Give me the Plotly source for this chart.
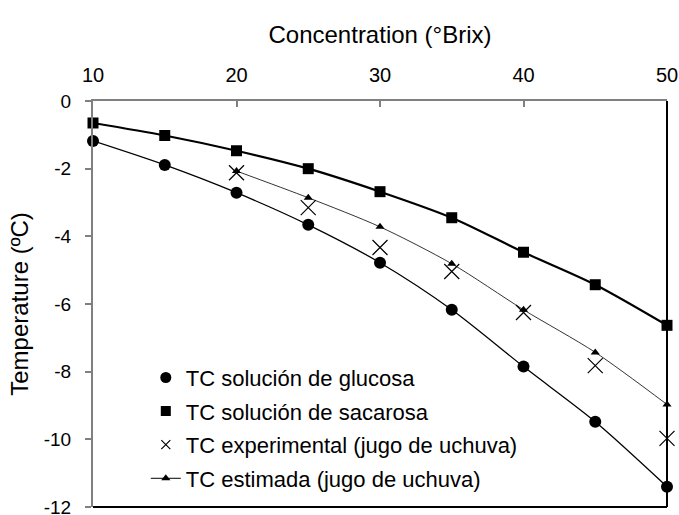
import plotly.graph_objects as go

conc = [10, 15, 20, 25, 30, 35, 40, 45, 50]
tc_glucosa = [-1.18, -1.89, -2.71, -3.66, -4.78, -6.17, -7.85, -9.48, -11.4]
tc_sacarosa = [-0.65, -1.02, -1.47, -2.0, -2.68, -3.45, -4.47, -5.43, -6.63]
conc_jugo = [20, 25, 30, 35, 40, 45, 50]
tc_experimental = [-2.12, -3.15, -4.33, -5.04, -6.25, -7.82, -9.97]
tc_estimada = [-2.07, -2.86, -3.72, -4.81, -6.17, -7.43, -8.97]

x_ticks = [10, 20, 30, 40, 50]
y_ticks = [0, -2, -4, -6, -8, -10, -12]
y_ticklabels = ["0", "-2", "-4", "-6", "-8", "-10", "-12"]

FONT = "Liberation Sans, Arial, sans-serif"

fig = go.Figure()
fig.add_trace(go.Scatter(
    x=conc, y=tc_glucosa, name="TC solución de glucosa", showlegend=False,
    mode="lines+markers", line=dict(color="black", width=1.3, shape="spline", smoothing=0.8),
    marker=dict(symbol="circle", size=12, color="black"), cliponaxis=False))
fig.add_trace(go.Scatter(
    x=conc, y=tc_sacarosa, name="TC solución de sacarosa", showlegend=False,
    mode="lines+markers", line=dict(color="black", width=2.2, shape="spline", smoothing=0.8),
    marker=dict(symbol="square", size=11, color="black"), cliponaxis=False))
fig.add_trace(go.Scatter(
    x=conc_jugo, y=tc_experimental, name="TC experimental (jugo de uchuva)", showlegend=False,
    mode="markers",
    marker=dict(symbol="x-thin-open", size=15, color="black", line=dict(width=1.2, color="black")),
    cliponaxis=False))
fig.add_trace(go.Scatter(
    x=conc_jugo, y=tc_estimada, name="TC estimada (jugo de uchuva)", showlegend=False,
    mode="lines+markers", line=dict(color="black", width=0.8, shape="spline", smoothing=0.8),
    marker=dict(symbol="triangle-up", size=8, color="black"), cliponaxis=False))

# legend entries (as in the original legend: markers only except the estimated curve)
fig.add_trace(go.Scatter(x=[None], y=[None], name="TC solución de glucosa", legendgroup="g1",
                         mode="markers", marker=dict(symbol="circle", size=11, color="black")))
fig.add_trace(go.Scatter(x=[None], y=[None], name="TC solución de sacarosa", legendgroup="g2",
                         mode="markers", marker=dict(symbol="square", size=10, color="black")))
fig.add_trace(go.Scatter(x=[None], y=[None], name="TC experimental (jugo de uchuva)", legendgroup="g3",
                         mode="markers",
                         marker=dict(symbol="x-thin-open", size=9, color="black",
                                     line=dict(width=1.2, color="black"))))
fig.add_trace(go.Scatter(x=[None], y=[None], name="TC estimada (jugo de uchuva)", legendgroup="g4",
                         mode="lines+markers", line=dict(color="black", width=1),
                         marker=dict(symbol="triangle-up", size=8, color="black")))

fig.add_shape(type="line", xref="paper", yref="paper", x0=1, x1=1, y0=0, y1=1,
              line=dict(color="black", width=2))
fig.add_shape(type="line", xref="paper", yref="paper", x0=0, x1=1, y0=0, y1=0,
              line=dict(color="black", width=2))

fig.update_layout(
    width=679, height=515,
    margin=dict(l=93, r=12, t=101, b=8),
    paper_bgcolor="white", plot_bgcolor="white",
    font=dict(family=FONT, size=19, color="black"),
    showlegend=True,
    legend=dict(x=0.092, y=0.018, xanchor="left", yanchor="bottom",
                bgcolor="rgba(0,0,0,0)", font=dict(size=22), tracegroupgap=2,
                itemwidth=30),
    xaxis=dict(side="top", range=[10, 50], tickvals=x_ticks, ticks="inside", ticklen=6,
               tickcolor="#808080", tickwidth=1.5, showline=True, linecolor="#808080",
               linewidth=2, showgrid=False, zeroline=False, automargin=False,
               ticklabelstandoff=9, ticklabeloverflow="allow",
               title=dict(text="Concentration (°Brix)", font=dict(size=24), standoff=14),
               tickfont=dict(size=20)),
    yaxis=dict(range=[-12, 0], tickvals=y_ticks, ticktext=y_ticklabels, ticks="outside",
               ticklen=6, tickcolor="#808080", tickwidth=1.5, showline=True,
               linecolor="#808080", linewidth=2, showgrid=False, zeroline=False,
               automargin=False, ticklabelstandoff=10, ticklabeloverflow="allow",
               title=dict(text="Temperature (ºC)", font=dict(size=24), standoff=8),
               tickfont=dict(size=19)),
)

fig.write_html("out.html", config={"displayModeBar": False},
               post_script="document.body.style.margin='0';document.body.style.overflow='hidden';")
